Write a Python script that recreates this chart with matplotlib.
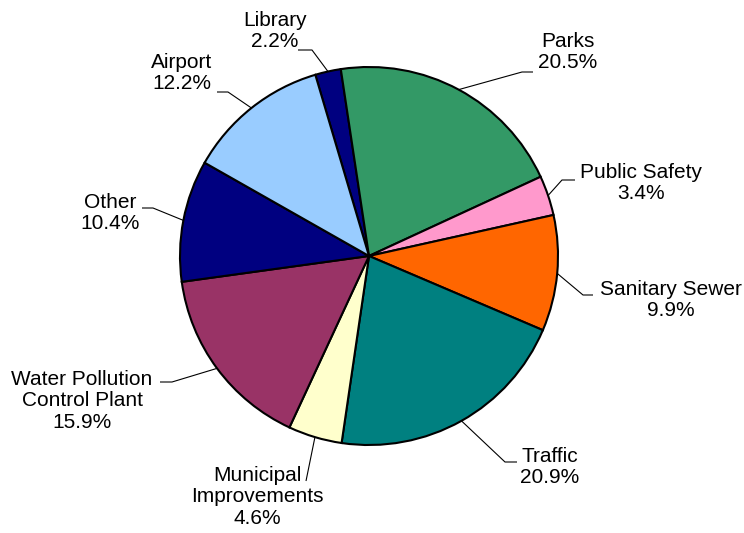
import matplotlib
matplotlib.use("Agg")
import matplotlib.pyplot as plt
import numpy as np

plt.rcParams['font.family'] = ['Liberation Sans', 'DejaVu Sans']

# Capital budget by program, clockwise from the top
categories = ['Library', 'Parks', 'Public Safety', 'Sanitary Sewer', 'Traffic',
              'Municipal\nImprovements', 'Water Pollution\nControl Plant', 'Other', 'Airport']
shares = [2.2, 20.5, 3.4, 9.9, 20.9, 4.6, 15.9, 10.4, 12.2]
colors = ['#000080', '#339966', '#FF99CC', '#FF6600', '#008080',
          '#FFFFCC', '#993366', '#000080', '#99CCFF']

W, H = 744, 533
cx, cy, r = 369, 256, 189
start = 106.5

# label layout in pixels from top-left: text centre, leader elbow, leader end
text_xy = [(275, 31), (568, 52), (641, 183), (671, 300), (550, 467),
           (257, 497), (82, 401), (110, 213), (182, 73)]
elbow_xy = [(312, 50), (522, 72), (562, 180), (583, 295), (505, 462),
            (306, 481), (172, 382), (153, 208), (228, 92)]
end_xy = [(298, 50), (533, 72), (575, 180), (593, 295), (517, 462),
          (306, 481), (160, 382), (142, 208), (217, 92)]


def main():
    fig = plt.figure(figsize=(W / 100, H / 100), dpi=100)
    ax = fig.add_axes([0, 0, 1, 1])

    ax.pie(shares, colors=colors, startangle=start, counterclock=False,
           center=(cx, H - cy), radius=r,
           wedgeprops=dict(edgecolor='black', linewidth=1.5))

    before = np.concatenate([[0], np.cumsum(shares)[:-1]])
    mids = np.radians(start - 3.6 * (before + np.array(shares) / 2))

    for i, cat in enumerate(categories):
        ex = cx + r * np.cos(mids[i])
        ey = cy - r * np.sin(mids[i])
        xs = [ex, elbow_xy[i][0], end_xy[i][0]]
        ys = [H - ey, H - elbow_xy[i][1], H - end_xy[i][1]]
        ax.plot(xs, ys, color='black', lw=0.8, solid_capstyle='butt')
        ax.text(text_xy[i][0], H - text_xy[i][1], f"{cat}\n{shares[i]:.1f}%",
                ha='center', va='center', fontsize=15, linespacing=1.15,
                multialignment='center')

    ax.set_xlim(0, W)
    ax.set_ylim(0, H)
    ax.set_aspect('equal')
    ax.axis('off')
    fig.savefig('out.png', dpi=100, facecolor='white')


if __name__ == "__main__":
    main()
